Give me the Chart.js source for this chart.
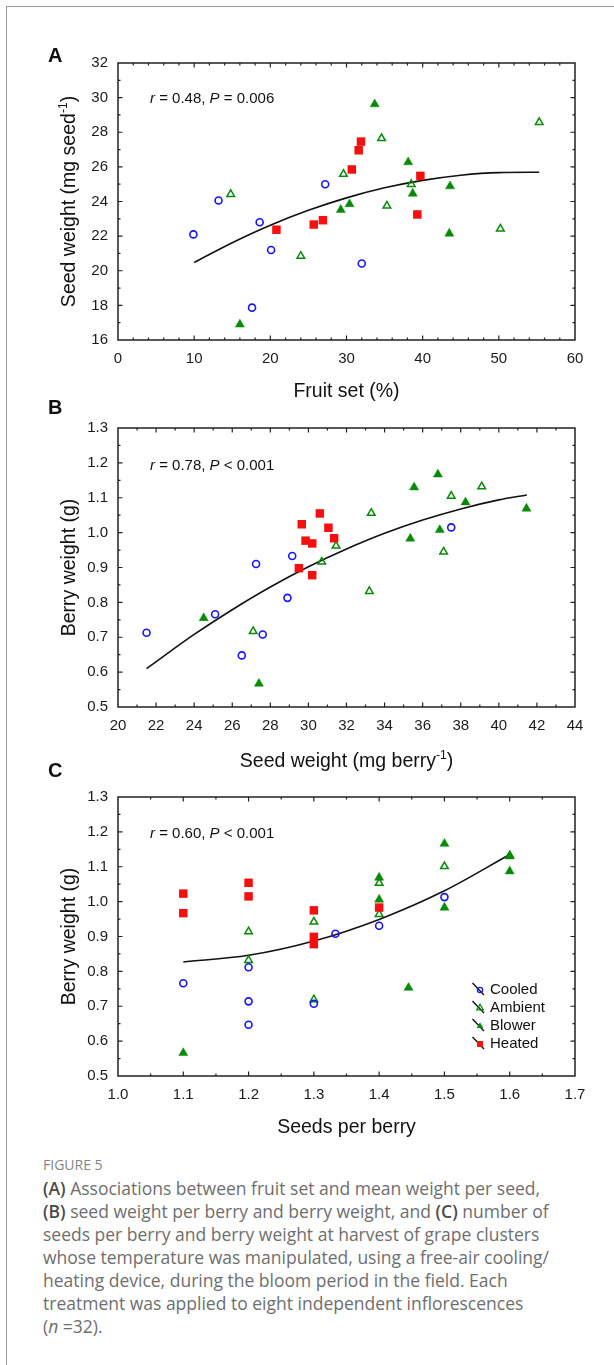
<!DOCTYPE html>
<html>
<head>
<meta charset="utf-8">
<script src="https://cdn.jsdelivr.net/npm/chart.js@4.4.1/dist/chart.umd.min.js"></script>
<style>
  body { margin: 0; background: #fff; }
  #page { position: relative; width: 614px; height: 1365px; overflow: hidden; background: #fff; }
  #frame { position: absolute; left: 6px; top: 6px; width: 700px; height: 1500px;
           border-left: 1px solid #9c9c9c; border-top: 1px solid #9c9c9c; }
  canvas.panel { position: absolute; left: 0; }
  #figlabel { position: absolute; left: 43px; top: 1155px; font: 14px "Open Sans", sans-serif;
              color: #858585; line-height: 20px; }
  #caption { position: absolute; left: 43px; top: 1177px; font: 17.5px "Open Sans", sans-serif;
             color: #6e6e6e; line-height: 23px; white-space: nowrap; }
  #caption b { color: #4a4a4a; font-weight: 600; }
</style>
</head>
<body>
<div id="page">
  <div id="frame"></div>
  <canvas id="chartA" class="panel" width="614" height="380" style="top:30px"></canvas>
  <canvas id="chartB" class="panel" width="614" height="380" style="top:395px"></canvas>
  <canvas id="chartC" class="panel" width="614" height="400" style="top:755px"></canvas>
  <div id="figlabel">FIGURE 5</div>
  <div id="caption"><b>(A)</b> Associations between fruit set and mean weight per seed,<br><b>(B)</b> seed weight per berry and berry weight, and <b>(C)</b> number of<br>seeds per berry and berry weight at harvest of grape clusters<br>whose temperature was manipulated, using a free-air cooling/<br>heating device, during the bloom period in the field. Each<br>treatment was applied to eight independent inflorescences<br>(<i>n</i> =32).</div>
</div>
<script>
// ---- panel A: fruit set (%) vs seed weight (mg seed-1)
var aCooledX  = [9.9, 13.2, 17.6, 18.6, 20.1, 27.2, 32.0];
var aCooledY  = [22.1, 24.06, 17.87, 22.8, 21.2, 25.0, 20.42];
var aAmbientX = [14.8, 24.0, 29.6, 34.6, 35.3, 38.5, 50.2, 55.3];
var aAmbientY = [24.42, 20.85, 25.58, 27.65, 23.75, 25.0, 22.42, 28.58];
var aBlowerX  = [16.0, 29.25, 30.4, 33.7, 38.1, 38.7, 43.6, 43.5];
var aBlowerY  = [16.9, 23.52, 23.85, 29.62, 26.27, 24.46, 24.88, 22.15];
var aHeatedX  = [20.8, 25.7, 26.9, 30.7, 31.6, 31.9, 39.7, 39.3];
var aHeatedY  = [22.37, 22.67, 22.92, 25.85, 26.96, 27.46, 25.48, 23.25];
var aFitX = [10, 15, 20, 25, 30, 35, 40, 45, 50, 55.3];
var aFitY = [20.48, 21.62, 22.63, 23.49, 24.21, 24.79, 25.22, 25.52, 25.67, 25.69];

// ---- panel B: seed weight (mg berry-1) vs berry weight (g)
var bCooledX  = [21.5, 25.1, 26.5, 27.25, 27.6, 28.9, 29.15, 37.5];
var bCooledY  = [0.713, 0.766, 0.648, 0.910, 0.708, 0.813, 0.933, 1.015];
var bAmbientX = [27.1, 30.7, 31.45, 33.2, 33.3, 37.1, 37.5, 39.1];
var bAmbientY = [0.717, 0.916, 0.962, 0.832, 1.056, 0.945, 1.105, 1.132];
var bBlowerX  = [24.5, 27.4, 35.35, 35.55, 36.8, 36.9, 38.25, 41.45];
var bBlowerY  = [0.755, 0.567, 0.983, 1.130, 1.167, 1.008, 1.087, 1.069];
var bHeatedX  = [29.65, 29.5, 29.85, 30.2, 30.2, 30.6, 31.05, 31.35];
var bHeatedY  = [1.024, 0.898, 0.977, 0.969, 0.878, 1.055, 1.014, 0.984];
var bFitX = [21.5, 24, 26, 28, 30, 32, 34, 36, 38, 40, 41.47];
var bFitY = [0.610, 0.708, 0.779, 0.844, 0.902, 0.953, 0.998, 1.036, 1.068, 1.094, 1.108];

// ---- panel C: seeds per berry vs berry weight (g)
var cCooledX  = [1.1, 1.2, 1.2, 1.2, 1.3, 1.333, 1.4, 1.5];
var cCooledY  = [0.766, 0.812, 0.714, 0.647, 0.707, 0.908, 0.931, 1.013];
var cAmbientX = [1.2, 1.2, 1.3, 1.3, 1.4, 1.4, 1.5, 1.6];
var cAmbientY = [0.914, 0.832, 0.942, 0.719, 1.053, 0.964, 1.101, 1.132];
var cBlowerX  = [1.1, 1.4, 1.4, 1.445, 1.5, 1.5, 1.6, 1.6];
var cBlowerY  = [0.566, 1.069, 1.006, 0.753, 1.166, 0.983, 1.130, 1.087];
var cHeatedX  = [1.1, 1.1, 1.2, 1.2, 1.3, 1.3, 1.3, 1.4];
var cHeatedY  = [1.023, 0.967, 1.054, 1.015, 0.975, 0.899, 0.878, 0.983];
var cFitX = [1.1, 1.2, 1.3, 1.4, 1.5, 1.6];
var cFitY = [0.827, 0.846, 0.887, 0.949, 1.031, 1.135];

var BLUE = '#1414ff', GREEN = '#078a07', RED = '#f51010';
var FONT = '"Liberation Sans", Arial, sans-serif';

function pts(xs, ys) {
  return xs.map(function(x, i) { return {x: x, y: ys[i]}; });
}

function markerSets(cx, cy, ax, ay, bx, by, hx, hy, fx, fy) {
  return [
    {label: 'Heated', data: pts(hx, hy), order: 1, pointStyle: 'rect', pointRadius: 6,
     backgroundColor: RED, borderColor: RED, borderWidth: 0},
    {label: 'Blower', data: pts(bx, by), order: 2, pointStyle: 'triangle', pointRadius: 5.2,
     backgroundColor: GREEN, borderColor: GREEN, borderWidth: 0.5},
    {label: 'Cooled', data: pts(cx, cy), order: 3, pointStyle: 'circle', pointRadius: 3.5,
     backgroundColor: 'rgba(255,255,255,0)', borderColor: BLUE, borderWidth: 1.6},
    {label: 'Ambient', data: pts(ax, ay), order: 4, pointStyle: 'triangle', pointRadius: 4.4,
     backgroundColor: 'rgba(255,255,255,0)', borderColor: GREEN, borderWidth: 1.5},
    {label: 'fit', type: 'line', data: pts(fx, fy), order: 5, showLine: true, pointRadius: 0,
     borderColor: '#111', borderWidth: 1.6, fill: false, cubicInterpolationMode: 'monotone'}
  ];
}

// draw a run of text pieces (italic / superscript) starting at x, baseline y
function drawRich(ctx, segs, x, y, size, align) {
  var total = 0;
  segs.forEach(function(s) {
    ctx.font = (s.i ? 'italic ' : '') + (s.sup ? size * 0.62 : size) + 'px ' + FONT;
    s.w = ctx.measureText(s.t).width;
    total += s.w;
  });
  var sx = align === 'center' ? x - total / 2 : x;
  segs.forEach(function(s) {
    ctx.font = (s.i ? 'italic ' : '') + (s.sup ? size * 0.62 : size) + 'px ' + FONT;
    ctx.fillText(s.t, sx, s.sup ? y - size * 0.42 : y);
    sx += s.w;
  });
}

function marker(ctx, style, x, y, r, color, filled) {
  ctx.beginPath();
  if (style === 'circle') {
    ctx.arc(x, y, r, 0, Math.PI * 2);
  } else if (style === 'triangle') {
    ctx.moveTo(x, y - r);
    ctx.lineTo(x + r * 0.866, y + r / 2);
    ctx.lineTo(x - r * 0.866, y + r / 2);
    ctx.closePath();
  } else {
    ctx.rect(x - r * 0.707, y - r * 0.707, r * 1.414, r * 1.414);
  }
  if (filled) { ctx.fillStyle = color; ctx.fill(); }
  else { ctx.strokeStyle = color; ctx.lineWidth = 1.3; ctx.stroke(); }
}

var decor = {
  id: 'decor',
  afterDraw: function(chart, args, o) {
    var ctx = chart.ctx, a = chart.chartArea;
    var xs = chart.scales.x, ys = chart.scales.y;
    var off = o.top;
    ctx.save();

    // frame with inward ticks on all four sides
    ctx.strokeStyle = '#222';
    ctx.lineWidth = 1.5;
    ctx.strokeRect(a.left, a.top, a.right - a.left, a.bottom - a.top);
    ctx.lineWidth = 1.2;
    ctx.beginPath();
    var n = Math.round((xs.max - xs.min) / o.xMinor), i, p, len;
    for (i = 1; i < n; i++) {
      p = xs.getPixelForValue(xs.min + i * o.xMinor);
      len = i % o.xRatio === 0 ? 4.5 : 2.5;
      ctx.moveTo(p, a.bottom); ctx.lineTo(p, a.bottom - len);
      ctx.moveTo(p, a.top); ctx.lineTo(p, a.top + len);
    }
    n = Math.round((ys.max - ys.min) / o.yMinor);
    for (i = 1; i < n; i++) {
      p = ys.getPixelForValue(ys.min + i * o.yMinor);
      len = i % o.yRatio === 0 ? 4.5 : 2.5;
      ctx.moveTo(a.left, p); ctx.lineTo(a.left + len, p);
      ctx.moveTo(a.right, p); ctx.lineTo(a.right - len, p);
    }
    ctx.stroke();

    ctx.fillStyle = '#111';
    ctx.textBaseline = 'alphabetic';
    ctx.textAlign = 'left';

    // panel letter
    ctx.font = 'bold 20px ' + FONT;
    ctx.fillText(o.letter, 48, o.letterY - off + 7);

    // r / P note
    drawRich(ctx, o.note, 150, o.noteY - off + 5.5, 15, 'left');

    // axis titles
    drawRich(ctx, o.xTitle, (a.left + a.right) / 2, o.xTitleY - off + 7, 19.5, 'center');
    ctx.save();
    ctx.translate(68, (a.top + a.bottom) / 2);
    ctx.rotate(-Math.PI / 2);
    drawRich(ctx, o.yTitle, 0, 7, 19.5, 'center');
    ctx.restore();

    // legend inside the plot (panel C)
    if (o.legend) {
      var rows = ['Cooled', 'Ambient', 'Blower', 'Heated'];
      rows.forEach(function(name, k) {
        var ds = chart.data.datasets.filter(function(d) { return d.label === name; })[0];
        var cy = o.legendY - off + k * 18, cx = 480;
        ctx.strokeStyle = '#111';
        ctx.lineWidth = 1.4;
        ctx.beginPath();
        ctx.moveTo(cx - 7.5, cy - 7); ctx.lineTo(cx + 4, cy + 5);
        ctx.stroke();
        var filled = ds.backgroundColor !== 'rgba(255,255,255,0)';
        var rr = ds.pointStyle === 'circle' ? 2.6 : (ds.pointStyle === 'rect' ? 4.2 : 3.8);
        marker(ctx, ds.pointStyle, cx, cy, rr, ds.borderColor, filled);
        ctx.fillStyle = '#111';
        ctx.font = '15px ' + FONT;
        ctx.textBaseline = 'middle';
        ctx.fillText(name, 490, cy);
        ctx.textBaseline = 'alphabetic';
      });
    }
    ctx.restore();
  }
};

function makePanel(id, p) {
  var tickFont = {family: FONT, size: 15};
  new Chart(document.getElementById(id), {
    type: 'scatter',
    data: {datasets: p.datasets},
    plugins: [decor],
    options: {
      responsive: false,
      animation: false,
      devicePixelRatio: 1,
      events: [],
      layout: {padding: {left: 0, right: 39, top: p.padTop, bottom: 0}},
      plugins: {legend: {display: false}, tooltip: {enabled: false}, decor: p.decor},
      scales: {
        x: {
          type: 'linear', min: p.xMin, max: p.xMax,
          afterFit: function(s) { s.height = p.xHeight; },
          grid: {display: false, drawTicks: false}, border: {display: false},
          ticks: {stepSize: p.xStep, padding: 10, color: '#1a1a1a', font: tickFont,
                  callback: function(v) { return v.toFixed(p.xDec); }}
        },
        y: {
          type: 'linear', min: p.yMin, max: p.yMax,
          afterFit: function(s) { s.width = 118; },
          grid: {display: false, drawTicks: false}, border: {display: false},
          ticks: {stepSize: p.yStep, padding: 10, color: '#1a1a1a', font: tickFont,
                  callback: function(v) { return v.toFixed(p.yDec); }}
        }
      }
    }
  });
}

makePanel('chartA', {
  datasets: markerSets(aCooledX, aCooledY, aAmbientX, aAmbientY, aBlowerX, aBlowerY,
                       aHeatedX, aHeatedY, aFitX, aFitY),
  padTop: 33, xHeight: 70,
  xMin: 0, xMax: 60, xStep: 10, xDec: 0, yMin: 16, yMax: 32, yStep: 2, yDec: 0,
  decor: {top: 30, letter: 'A', letterY: 55, noteY: 97, xTitleY: 390,
          xMinor: 2, xRatio: 5, yMinor: 1, yRatio: 2,
          note: [{t: 'r', i: true}, {t: ' = 0.48, '}, {t: 'P', i: true}, {t: ' = 0.006'}],
          xTitle: [{t: 'Fruit set (%)'}],
          yTitle: [{t: 'Seed weight (mg seed'}, {t: '-1', sup: true}, {t: ')'}]}
});

makePanel('chartB', {
  datasets: markerSets(bCooledX, bCooledY, bAmbientX, bAmbientY, bBlowerX, bBlowerY,
                       bHeatedX, bHeatedY, bFitX, bFitY),
  padTop: 33, xHeight: 68,
  xMin: 20, xMax: 44, xStep: 2, xDec: 0, yMin: 0.5, yMax: 1.3, yStep: 0.1, yDec: 1,
  decor: {top: 395, letter: 'B', letterY: 407, noteY: 464, xTitleY: 760,
          xMinor: 1, xRatio: 2, yMinor: 0.05, yRatio: 2,
          note: [{t: 'r', i: true}, {t: ' = 0.78, '}, {t: 'P', i: true}, {t: ' < 0.001'}],
          xTitle: [{t: 'Seed weight (mg berry'}, {t: '-1', sup: true}, {t: ')'}],
          yTitle: [{t: 'Berry weight (g)'}]}
});

makePanel('chartC', {
  datasets: markerSets(cCooledX, cCooledY, cAmbientX, cAmbientY, cBlowerX, cBlowerY,
                       cHeatedX, cHeatedY, cFitX, cFitY),
  padTop: 42, xHeight: 79,
  xMin: 1.0, xMax: 1.7, xStep: 0.1, xDec: 1, yMin: 0.5, yMax: 1.3, yStep: 0.1, yDec: 1,
  decor: {top: 755, letter: 'C', letterY: 770, noteY: 832, xTitleY: 1126,
          xMinor: 0.05, xRatio: 2, yMinor: 0.05, yRatio: 2, legend: true, legendY: 990,
          note: [{t: 'r', i: true}, {t: ' = 0.60, '}, {t: 'P', i: true}, {t: ' < 0.001'}],
          xTitle: [{t: 'Seeds per berry'}],
          yTitle: [{t: 'Berry weight (g)'}]}
});
</script>
</body>
</html>
